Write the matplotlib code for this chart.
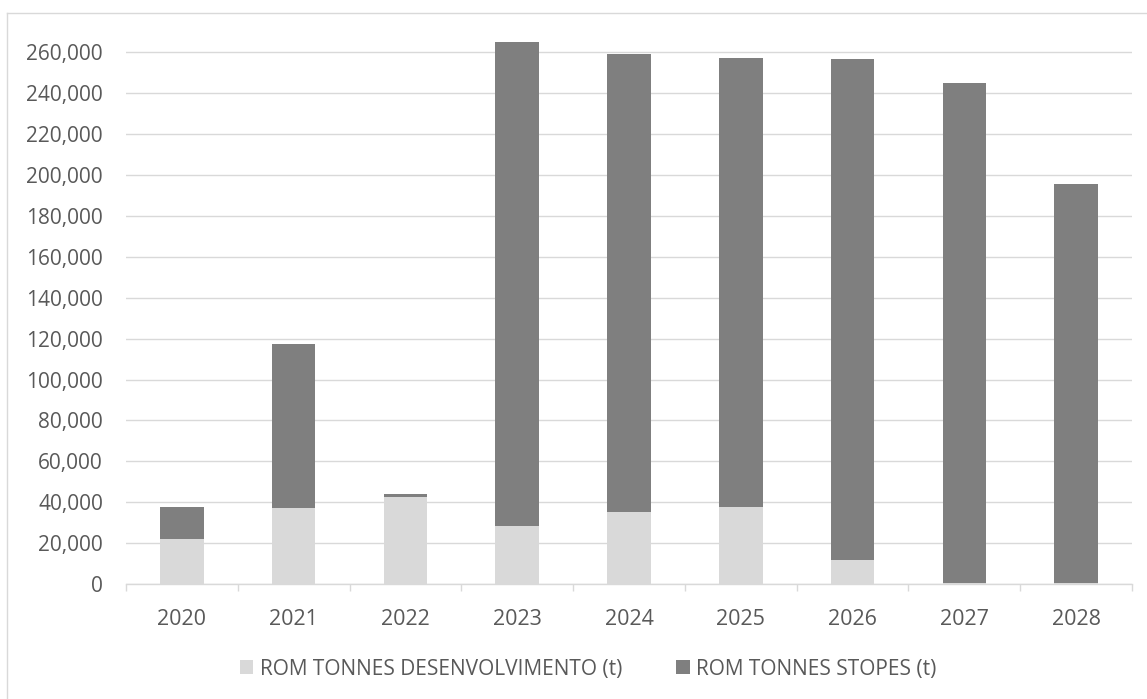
import numpy as np
import matplotlib
matplotlib.use('Agg')
import matplotlib.pyplot as plt
from matplotlib.ticker import FuncFormatter
from matplotlib.lines import Line2D

years = ['2020', '2021', '2022', '2023', '2024', '2025', '2026', '2027', '2028']
desenvolvimento = [22000, 37200, 42400, 28500, 35400, 37700, 11750, 300, 300]
stopes = [15700, 80400, 1650, 236700, 223800, 219700, 245200, 244700, 195500]
yticks = np.arange(0, 260001, 20000)

plt.rcParams['font.family'] = ['Open Sans', 'DejaVu Sans']
txt = '#595959'
grid = '#d9d9d9'

fig = plt.figure(figsize=(11.47, 6.99), dpi=100)
ax = fig.add_axes([126/1147, 1-584/699, 1006/1147, 552/699])

x = np.arange(len(years))
ax.bar(x, desenvolvimento, width=0.39, color='#d9d9d9', label='ROM TONNES DESENVOLVIMENTO (t)', zorder=3)
ax.bar(x, stopes, width=0.39, bottom=desenvolvimento, color='#7f7f7f', label='ROM TONNES STOPES (t)', zorder=3)

ax.set_xlim(-0.5, len(years)-0.5)
ax.set_ylim(0, 270000)
ax.set_yticks(yticks)
ax.yaxis.set_major_formatter(FuncFormatter(lambda v, p: '{:,.0f}'.format(v)))
ax.set_xticks(x)
ax.set_xticklabels(years)
ax.set_xticks(np.arange(-0.5, len(years), 1), minor=True)
ax.tick_params(axis='x', which='major', length=0, pad=18, labelsize=15.5, labelcolor=txt)
ax.tick_params(axis='x', which='minor', length=5, width=1.0, color=grid, direction='out')
ax.tick_params(axis='y', length=0, pad=16.5, labelsize=15, labelcolor=txt)
ax.grid(axis='y', color=grid, linewidth=1.0, zorder=0)
for s in ['top', 'right', 'left']:
    ax.spines[s].set_visible(False)
ax.spines['bottom'].set_color(grid)
ax.spines['bottom'].set_linewidth(1.0)
ax.spines['bottom'].set_zorder(4)

leg = fig.legend(loc='center', bbox_to_anchor=(588/1147, 1-669/699), ncol=2, frameon=False,
                 fontsize=15, handlelength=0.65, handleheight=0.65, handletextpad=0.3, columnspacing=2.6)
for t in leg.get_texts():
    t.set_color(txt)

# outer chart border (only left and top are in the frame)
fig.add_artist(Line2D([7/1147, 7/1147], [0, 1-13/699], color=grid, linewidth=1.0))
fig.add_artist(Line2D([7/1147, 1], [1-13/699, 1-13/699], color=grid, linewidth=1.0))

plt.savefig('out.png', dpi=100)
